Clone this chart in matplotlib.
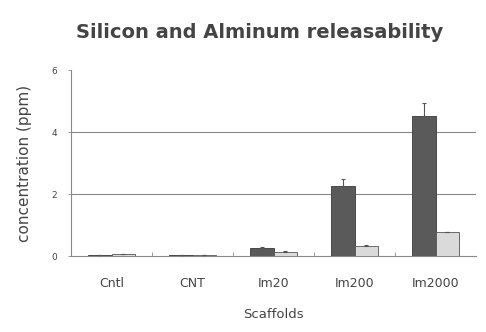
import matplotlib
matplotlib.use("Agg")
import matplotlib.pyplot as plt
import numpy as np

categories = ["Cntl", "CNT", "Im20", "Im200", "Im2000"]
silicon = [0.02, 0.02, 0.25, 2.25, 4.52]
silicon_err = [0.01, 0.01, 0.03, 0.22, 0.40]
aluminum = [0.06, 0.03, 0.13, 0.32, 0.76]
aluminum_err = [0.01, 0.01, 0.02, 0.04, 0.03]
yticks = [0, 2, 4, 6]

text_color = "#444444"
fig = plt.figure(figsize=(4.86, 3.32), dpi=100)
ax = fig.add_axes([71 / 486, 1 - 256 / 332, 405 / 486, 186 / 332])

x = np.arange(len(categories))
w = 0.29
err_kw = dict(ecolor="#555555", elinewidth=0.8, capsize=1.5, capthick=0.8)
ax.bar(x - w / 2, silicon, w, color="#5a5a5a", edgecolor="#3a3a3a", linewidth=0.6,
       yerr=[np.zeros(len(silicon)), silicon_err], error_kw=err_kw, zorder=3)
ax.bar(x + w / 2, aluminum, w, color="#dadada", edgecolor="#555555", linewidth=0.6,
       yerr=[np.zeros(len(aluminum)), aluminum_err], error_kw=err_kw, zorder=3)

ax.set_xlim(-0.5, len(categories) - 0.5)
ax.set_ylim(0, 6)
ax.set_yticks(yticks)
ax.set_yticklabels([str(t) for t in yticks], fontsize=6.5, color=text_color)
ax.set_xticks(x)
ax.set_xticklabels(categories, fontsize=9, color=text_color)
ax.tick_params(axis="x", length=0, pad=15)
ax.tick_params(axis="y", length=2, width=0.6, color="#888888", pad=8)
ax.set_xticks(np.arange(0.5, len(categories) - 0.5), minor=True)
ax.tick_params(axis="x", which="minor", length=3, width=0.6, color="#888888", direction="in")

for y in [2, 4]:
    ax.axhline(y, color="#888888", linewidth=0.8, zorder=1)

for side in ["top", "right"]:
    ax.spines[side].set_visible(False)
for side in ["left", "bottom"]:
    ax.spines[side].set_color("#888888")
    ax.spines[side].set_linewidth(0.8)

ax.set_ylabel("concentration (ppm)", fontsize=11, color=text_color, labelpad=14)
ax.set_xlabel("Scaffolds", fontsize=9.5, color=text_color, labelpad=13)
fig.text(260 / 486, 1 - 33 / 332, "Silicon and Alminum releasability", ha="center", va="center",
         fontsize=14, fontweight="bold", color=text_color)

fig.savefig("out.png", dpi=100)
